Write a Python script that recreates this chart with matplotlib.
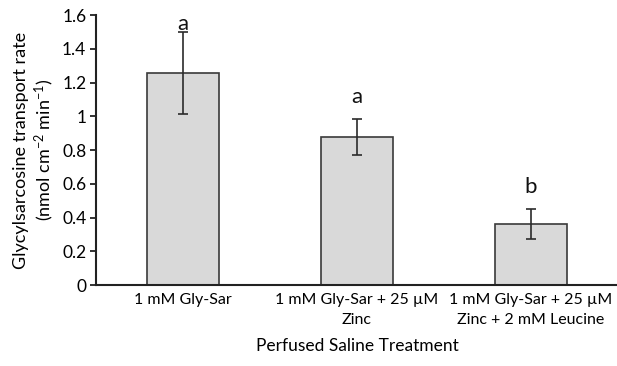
import matplotlib
matplotlib.use('Agg')
import matplotlib.pyplot as plt
import numpy as np

# Dane
treatments = ['1 mM Gly-Sar',
              '1 mM Gly-Sar + 25 \u00b5M\nZinc',
              '1 mM Gly-Sar + 25 \u00b5M\nZinc + 2 mM Leucine']
rates = [1.256, 0.877, 0.361]
errors = [0.245, 0.107, 0.090]
letters = ['a', 'a', 'b']

plt.rcParams['font.family'] = ['Lato', 'DejaVu Sans']
plt.rcParams['mathtext.fontset'] = 'custom'
plt.rcParams['mathtext.rm'] = 'Lato'
plt.rcParams['mathtext.default'] = 'rm'

fig = plt.figure(figsize=(6.17, 3.66), dpi=100)
ax = fig.add_axes([0.1556, 0.2213, 0.8460, 0.7377])

x = np.arange(len(treatments))
ax.bar(x, rates, width=0.41, color='#d9d9d9', edgecolor='#3a3a3a', linewidth=1.2, zorder=2)
ax.errorbar(x, rates, yerr=errors, fmt='none', ecolor='#2b2b2b', elinewidth=1.2,
            capsize=3.5, capthick=1.2, zorder=3)

for xi, r, e, l in zip(x, rates, errors, letters):
    # pierwsza litera w oryginale wcisnieta pod gorna krawedz osi
    ly = min(r + e + 0.07, 1.49)
    ax.text(xi, ly, l, ha='center', va='bottom', fontsize=16, color='#111111', zorder=4)

ax.set_xlim(-0.5, 2.5)
ax.set_ylim(0, 1.6)
ax.set_yticks(np.arange(0, 1.61, 0.2))
ax.set_yticklabels(['0', '0.2', '0.4', '0.6', '0.8', '1', '1.2', '1.4', '1.6'])
ax.set_xticks(x)
ax.set_xticklabels(treatments, fontsize=11.5, linespacing=1.5)
ax.tick_params(axis='y', labelsize=12.5, length=4, width=1.3, color='#222222', pad=3)
ax.tick_params(axis='x', length=0, pad=6)

for s in ['top', 'right']:
    ax.spines[s].set_visible(False)
for s in ['left', 'bottom']:
    ax.spines[s].set_linewidth(1.5)
    ax.spines[s].set_color('#222222')

ax.set_ylabel('Glycylsarcosine transport rate\n(nmol cm$^{-2}$ min$^{-1}$)', fontsize=13,
              linespacing=1.25, labelpad=4)
ax.set_xlabel('Perfused Saline Treatment', fontsize=12.5, labelpad=8)

fig.savefig('out.png', dpi=100)
